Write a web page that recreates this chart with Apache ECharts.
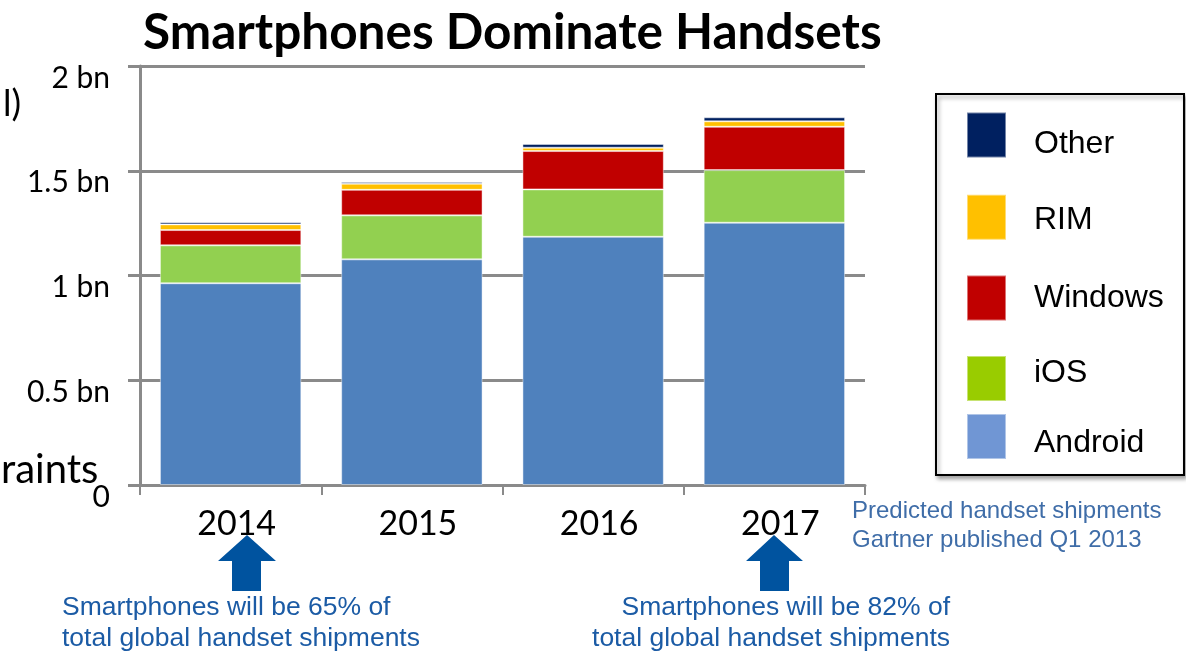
<!DOCTYPE html>
<html>
<head>
<meta charset="utf-8">
<script src="https://cdn.jsdelivr.net/npm/echarts@6/dist/echarts.min.js"></script>
<style>html,body{margin:0;padding:0;background:#fff}#c{width:1186px;height:651px}</style>
</head>
<body>
<div id="c"></div>
<script>
const years = ['2014', '2015', '2016', '2017'];
const android = [0.963, 1.077, 1.185, 1.252];
const ios = [0.181, 0.210, 0.226, 0.251];
const windows = [0.073, 0.122, 0.183, 0.207];
const rim = [0.027, 0.029, 0.016, 0.026];
const other = [0.010, 0.008, 0.018, 0.019];
const yTickLabels = ['0', '0.5 bn', '1 bn', '1.5 bn', '2 bn'];

const chart = echarts.init(document.getElementById('c'), null, {renderer: 'canvas'});
const gray = '#8a8a8a';
const calib = 'Lato, "Open Sans", sans-serif';
const arial = '"Liberation Sans", Arial, sans-serif';

function bar(name, data, color) {
  return {
    name, type: 'bar', stack: 'total', data,
    barCategoryGap: '22%',
    itemStyle: {color, borderColor: 'rgba(255,255,255,0.45)', borderWidth: 1},
    emphasis: {disabled: true}
  };
}

// vertical text nudges inside the legend (px, positive = down)
const legendNudge = {Other: 9, RIM: 3, Windows: 0, iOS: -5, Android: 7};
function legendFormatter(name) {
  const n = legendNudge[name] || 0;
  if (n > 0) return '{s' + Math.round(n * 2) + '| }\n{t|' + name + '}';
  if (n < 0) return '{t|' + name + '}\n{s' + Math.round(-n * 2) + '| }';
  return '{t|' + name + '}';
}
const legendRich = {t: {fontFamily: arial, fontSize: 32, color: '#000'}};
[18, 6, 10, 14].forEach(h => { legendRich['s' + h] = {lineHeight: h, height: h, fontSize: 1}; });
const legendText = {fontFamily: arial, fontSize: 32, color: '#000', padding: [0, 0, 0, 23], rich: legendRich};

chart.setOption({
  animation: false,
  title: {
    text: 'Smartphones Dominate Handsets',
    left: 138, top: 3,
    textStyle: {fontFamily: calib, fontWeight: 'bold', fontSize: 49.5, color: '#000'}
  },
  legend: [{
    orient: 'vertical', left: 966, top: 110, z: 5, padding: 0,
    icon: 'rect',
    itemWidth: 39, itemHeight: 45, itemGap: 33.7,
    selectedMode: false,
    formatter: legendFormatter,
    data: [
      {name: 'Other', itemStyle: {color: '#002060'}},
      {name: 'RIM', itemStyle: {color: '#FFC000'}},
      {name: 'Windows', itemStyle: {color: '#C00000'}},
      {name: 'iOS', itemStyle: {color: '#99CC00'}}
    ],
    textStyle: legendText
  }, {
    orient: 'vertical', left: 966, top: 413, z: 5, padding: 0,
    icon: 'rect',
    itemWidth: 39, itemHeight: 45,
    selectedMode: false,
    formatter: legendFormatter,
    data: [{name: 'Android', itemStyle: {color: '#7096D4'}}],
    textStyle: legendText
  }],
  grid: {left: 140, right: 321, top: 66, bottom: 166, containLabel: false},
  xAxis: {
    type: 'category', data: years,
    axisLine: {lineStyle: {color: gray, width: 3}},
    axisTick: {show: true, length: 10, lineStyle: {color: gray, width: 2}},
    axisLabel: {fontFamily: calib, fontSize: 34, color: '#000', margin: 22, padding: [0, 0, 0, 12]}
  },
  yAxis: {
    type: 'value', min: 0, max: 2, interval: 0.5,
    axisLine: {show: true, lineStyle: {color: gray, width: 3}},
    axisTick: {show: true, length: 12, lineStyle: {color: gray, width: 3}},
    splitLine: {lineStyle: {color: gray, width: 3}},
    axisLabel: {
      fontFamily: calib, fontSize: 30, color: '#000', margin: 30,
      verticalAlign: 'top', lineHeight: 24,
      formatter: (v) => yTickLabels[Math.round(v / 0.5)]
    }
  },
  series: [
    bar('Android', android, '#4F81BD'),
    bar('iOS', ios, '#92D050'),
    bar('Windows', windows, '#C00000'),
    bar('RIM', rim, '#FFC000'),
    bar('Other', other, '#002060')
  ],
  graphic: [
    {type: 'rect', z: 1, shape: {x: 936, y: 94, width: 248, height: 381},
     style: {fill: '#fff', stroke: '#000', lineWidth: 2, shadowBlur: 4, shadowOffsetX: 2, shadowOffsetY: 3, shadowColor: 'rgba(0,0,0,0.35)'}},
    {type: 'polygon', z: 3, shape: {points: [[247,535],[276,561],[261,561],[261,591],[232,591],[232,561],[218,561]]}, style: {fill: '#00539F'}},
    {type: 'polygon', z: 3, shape: {points: [[774,535],[803,561],[789,561],[789,591],[760,591],[760,561],[746,561]]}, style: {fill: '#00539F'}},
    {type: 'text', z: 3, x: 62, y: 592, style: {text: 'Smartphones will be 65% of\ntotal global handset shipments', fill: '#1B5BA5', font: '26.5px "Liberation Sans", Arial, sans-serif', lineHeight: 31, align: 'left', verticalAlign: 'top'}},
    {type: 'text', z: 3, x: 950, y: 592, style: {text: 'Smartphones will be 82% of', fill: '#1B5BA5', font: '26.5px "Liberation Sans", Arial, sans-serif', lineHeight: 31, align: 'right', verticalAlign: 'top'}},
    {type: 'text', z: 3, x: 950, y: 623, style: {text: 'total global handset shipments', fill: '#1B5BA5', font: '26.5px "Liberation Sans", Arial, sans-serif', lineHeight: 31, align: 'right', verticalAlign: 'top'}},
    {type: 'text', z: 3, left: 852, top: 497, style: {text: 'Predicted handset shipments\nGartner published Q1 2013', fill: '#3F6DA8', font: '24px "Liberation Sans", Arial, sans-serif', lineHeight: 29}},
    {type: 'text', z: 3, left: 3, top: 86, style: {text: 'l)', fill: '#000', font: '36px Lato, sans-serif'}},
    {type: 'text', z: 3, left: 1, top: 450, style: {text: 'raints', fill: '#000', font: '40px Lato, sans-serif'}}
  ]
});
</script>
</body>
</html>
